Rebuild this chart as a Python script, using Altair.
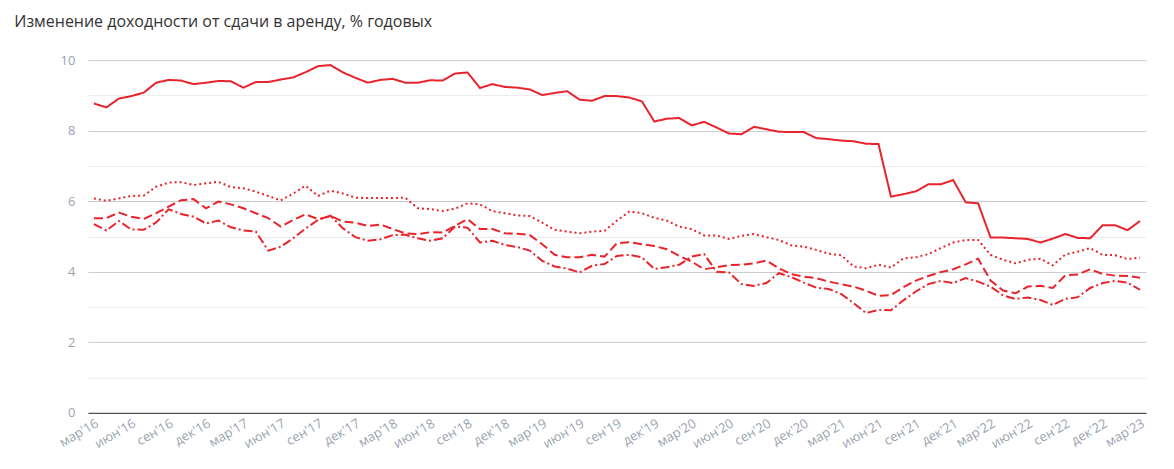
import altair as alt
import pandas as pd

# Monthly observations, Mar 2016 .. Mar 2023 (85 months)
series_names = ["s1", "s2", "s3", "s4"]

solid = [8.77, 8.66, 8.91, 8.98, 9.08, 9.36, 9.44, 9.42, 9.32, 9.36, 9.41, 9.40,
         9.22, 9.38, 9.38, 9.45, 9.51, 9.66, 9.83, 9.86, 9.65, 9.50, 9.36, 9.44,
         9.47, 9.36, 9.36, 9.43, 9.42, 9.62, 9.65, 9.21, 9.32, 9.24, 9.22, 9.17,
         9.01, 9.07, 9.12, 8.88, 8.85, 8.98, 8.98, 8.94, 8.83, 8.26, 8.34, 8.36,
         8.15, 8.25, 8.09, 7.92, 7.90, 8.11, 8.04, 7.97, 7.96, 7.96, 7.79, 7.76,
         7.72, 7.70, 7.63, 7.62, 6.13, 6.20, 6.28, 6.48, 6.48, 6.60, 5.97, 5.94,
         4.97, 4.97, 4.95, 4.93, 4.83, 4.94, 5.07, 4.96, 4.95, 5.32, 5.32, 5.18, 5.44]

dotted = [6.08, 6.01, 6.08, 6.15, 6.16, 6.41, 6.53, 6.54, 6.46, 6.51, 6.55, 6.40,
          6.37, 6.27, 6.15, 6.02, 6.22, 6.44, 6.15, 6.30, 6.22, 6.10, 6.09, 6.09,
          6.09, 6.10, 5.80, 5.78, 5.72, 5.79, 5.94, 5.91, 5.72, 5.66, 5.60, 5.58,
          5.39, 5.19, 5.14, 5.09, 5.14, 5.16, 5.45, 5.71, 5.66, 5.53, 5.45, 5.28,
          5.21, 5.03, 5.03, 4.93, 5.02, 5.07, 4.98, 4.90, 4.75, 4.71, 4.62, 4.51,
          4.47, 4.15, 4.10, 4.20, 4.12, 4.38, 4.41, 4.50, 4.67, 4.83, 4.90, 4.90,
          4.48, 4.34, 4.24, 4.34, 4.37, 4.18, 4.49, 4.57, 4.67, 4.48, 4.47, 4.36, 4.40]

dashed = [5.52, 5.52, 5.68, 5.56, 5.50, 5.66, 5.85, 6.03, 6.06, 5.80, 5.99, 5.91,
          5.80, 5.66, 5.52, 5.28, 5.47, 5.63, 5.49, 5.58, 5.42, 5.39, 5.30, 5.34,
          5.21, 5.09, 5.07, 5.12, 5.11, 5.30, 5.49, 5.21, 5.21, 5.09, 5.08, 5.04,
          4.78, 4.48, 4.41, 4.41, 4.48, 4.43, 4.81, 4.84, 4.78, 4.73, 4.64, 4.45,
          4.29, 4.07, 4.13, 4.19, 4.20, 4.24, 4.32, 4.10, 3.93, 3.86, 3.82, 3.72,
          3.65, 3.58, 3.46, 3.32, 3.34, 3.56, 3.75, 3.88, 3.99, 4.07, 4.21, 4.37,
          3.75, 3.47, 3.39, 3.58, 3.60, 3.54, 3.90, 3.92, 4.07, 3.94, 3.89, 3.88, 3.83]

dashdot = [5.35, 5.17, 5.44, 5.20, 5.19, 5.40, 5.77, 5.64, 5.56, 5.37, 5.45, 5.26,
           5.17, 5.14, 4.60, 4.71, 4.95, 5.23, 5.47, 5.59, 5.23, 4.98, 4.88, 4.92,
           5.04, 5.05, 4.95, 4.88, 4.95, 5.28, 5.25, 4.83, 4.88, 4.76, 4.70, 4.60,
           4.31, 4.15, 4.09, 3.98, 4.17, 4.22, 4.45, 4.48, 4.41, 4.08, 4.13, 4.20,
           4.43, 4.50, 4.00, 3.98, 3.65, 3.60, 3.68, 3.96, 3.85, 3.69, 3.55, 3.51,
           3.37, 3.11, 2.83, 2.92, 2.91, 3.19, 3.44, 3.65, 3.74, 3.68, 3.82, 3.72,
           3.58, 3.33, 3.23, 3.27, 3.20, 3.06, 3.23, 3.28, 3.54, 3.68, 3.74, 3.69, 3.49]

tick_labels = ["мар'16", "июн'16", "сен'16", "дек'16", "мар'17", "июн'17", "сен'17", "дек'17",
               "мар'18", "июн'18", "сен'18", "дек'18", "мар'19", "июн'19", "сен'19", "дек'19",
               "мар'20", "июн'20", "сен'20", "дек'20", "мар'21", "июн'21", "сен'21", "дек'21",
               "мар'22", "июн'22", "сен'22", "дек'22", "мар'23"]

rows = []
for name, vals in zip(series_names, [solid, dotted, dashed, dashdot]):
    for i, v in enumerate(vals):
        rows.append({"m": i, "v": v, "s": name})
df = pd.DataFrame(rows)

labels_js = "[" + ",".join('"' + t + '"' for t in tick_labels) + "]"

RED = "#e8232c"

chart = alt.Chart(df).mark_line(strokeWidth=2, color=RED).encode(
    x=alt.X("m:Q",
            scale=alt.Scale(domain=[0, 84], padding=6, nice=False, zero=False),
            axis=alt.Axis(values=list(range(0, 85, 3)), labelExpr=labels_js + "[round(datum.value/3)]",
                          title=None, grid=False, ticks=False, domainColor="#333333",
                          labelAngle=-30, labelAlign="right", labelBaseline="top",
                          labelOverlap=False,
                          labelColor="#9aa3b0", labelFontSize=13, labelFont="Open Sans",
                          labelPadding=4)),
    y=alt.Y("v:Q",
            scale=alt.Scale(domain=[0, 10], nice=False),
            axis=alt.Axis(values=list(range(0, 11)), title=None, ticks=False, domain=False,
                          labelExpr="datum.value % 2 == 0 ? datum.label : ''",
                          gridColor=alt.condition("datum.value % 2 == 1", alt.value("#ebebeb"), alt.value("#cccccc")),
                          labelColor="#9aa3b0", labelFontSize=13, labelFont="Open Sans",
                          labelPadding=13)),
    strokeDash=alt.StrokeDash("s:N",
                              scale=alt.Scale(domain=series_names,
                                              range=[[1, 0], [2, 3], [9, 4], [9, 3, 2, 3]]),
                              legend=None),
    detail="s:N",
).properties(
    width=1059,
    height=353,
    padding={"left": 80, "top": 52, "right": 20, "bottom": 40},
    autosize=alt.AutoSizeParams(type="none"),
    title=alt.TitleParams("Изменение доходности от сдачи в аренду, % годовых",
                          anchor="start", frame="bounds", font="Open Sans", fontSize=16,
                          fontWeight="normal", color="#333333", dx=-43, dy=-20),
).configure_view(stroke=None)

chart.save("out.html", embed_options={"renderer": "svg", "actions": False})
